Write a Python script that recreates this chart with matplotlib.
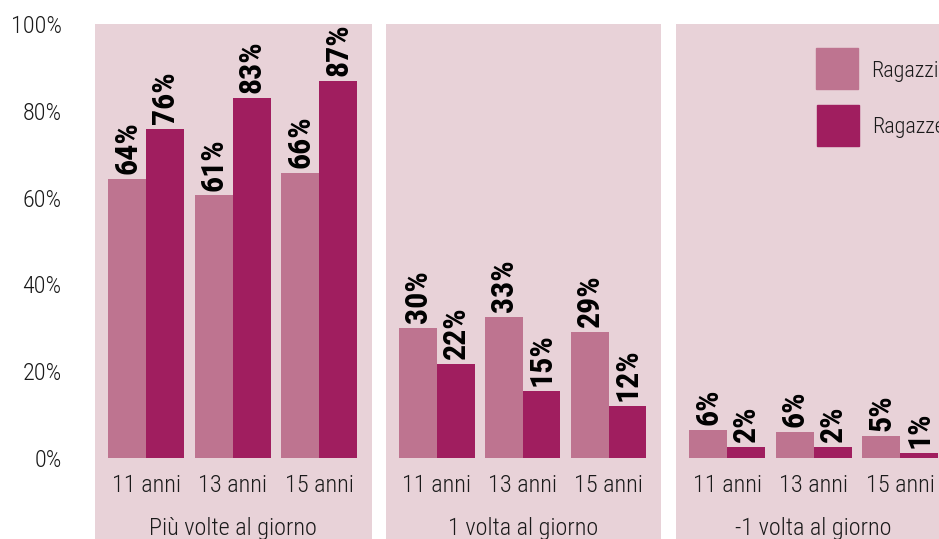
import matplotlib
matplotlib.use("Agg")
import matplotlib.pyplot as plt
from matplotlib.patches import Rectangle
import numpy as np

# ── data ─────────────────────────────────────────────────────────────
panels = ["Più volte al giorno", "1 volta al giorno", "-1 volta al giorno"]
ages = ["11 anni", "13 anni", "15 anni"]
series = ["Ragazzi", "Ragazze"]

# bar heights (%) per panel
ragazzi = [[64.4, 60.5, 65.7], [29.9, 32.6, 29.0], [6.4, 6.0, 5.1]]
ragazze = [[75.9, 83.0, 86.9], [21.6, 15.4, 12.0], [2.5, 2.5, 1.1]]
# printed labels
lab_ragazzi = [["64%", "61%", "66%"], ["30%", "33%", "29%"], ["6%", "6%", "5%"]]
lab_ragazze = [["76%", "83%", "87%"], ["22%", "15%", "12%"], ["2%", "2%", "1%"]]

yticks = [0, 20, 40, 60, 80, 100]

# ── style ────────────────────────────────────────────────────────────
C_LIGHT = "#BE7490"
C_DARK = "#A01E5F"
C_BG = "#E8D2D8"
C_TXT = "#1A1A1A"
plt.rcParams["font.family"] = ["Roboto Condensed", "DejaVu Sans"]
LIGHT = 300
FS = 17.5

W, H = 939, 539
fig = plt.figure(figsize=(W / 100, H / 100), dpi=100)

px_per_pct = 4.34
y_bottom = -(H - 458) / px_per_pct

lefts = [95, 386, 676]
widths = [277, 275, 277]
bw = 0.44
x = np.arange(len(ages))

for i, name in enumerate(panels):
    ax = fig.add_axes([lefts[i] / W, 0, widths[i] / W, (H - 24) / H])
    ax.set_facecolor(C_BG)
    for s in ax.spines.values():
        s.set_visible(False)
    ax.set_xlim(-0.59, 2.61)
    ax.set_ylim(y_bottom, 100)
    ax.bar(x - bw / 2, ragazzi[i], bw, color=C_LIGHT, label=series[0])
    ax.bar(x + bw / 2, ragazze[i], bw, color=C_DARK, label=series[1])
    for xs, hs, ls in ((x - bw / 2, ragazzi[i], lab_ragazzi[i]),
                       (x + bw / 2, ragazze[i], lab_ragazze[i])):
        for xi, h, t in zip(xs, hs, ls):
            ax.text(xi, h + 1.1, t, rotation=90, ha="center", va="bottom",
                    fontsize=23, fontweight="bold", color="black")
    ax.set_xticks([])
    for xi, a in zip(x, ages):
        ax.text(xi, -(486 - 458) / px_per_pct, a, ha="center", va="center",
                fontsize=FS, fontweight=LIGHT, color=C_TXT)
    ax.text(1, -(528 - 458) / px_per_pct, name, ha="center", va="center",
            fontsize=FS, fontweight=LIGHT, color=C_TXT)
    if i == 0:
        ax.set_yticks(yticks)
        ax.set_yticklabels([f"{v}%" for v in yticks], fontsize=FS,
                           fontweight=LIGHT, color=C_TXT)
        ax.tick_params(axis="y", length=0, pad=24)
    else:
        ax.set_yticks([])

# legend (top right, partly cut by the figure edge as in the original)
leg_items = [(series[0], C_LIGHT, 816, 48), (series[1], C_DARK, 817, 105)]
for lab, col, lx, ly in leg_items:
    fig.patches.append(Rectangle((lx / W, 1 - (ly + 41) / H), 42 / W, 41 / H,
                                 transform=fig.transFigure, color=col))
    fig.text((lx + 55) / W, 1 - (ly + 23) / H, lab, ha="left", va="center",
             fontsize=16, fontweight=LIGHT, color=C_TXT)

fig.savefig("out.png", dpi=100)
